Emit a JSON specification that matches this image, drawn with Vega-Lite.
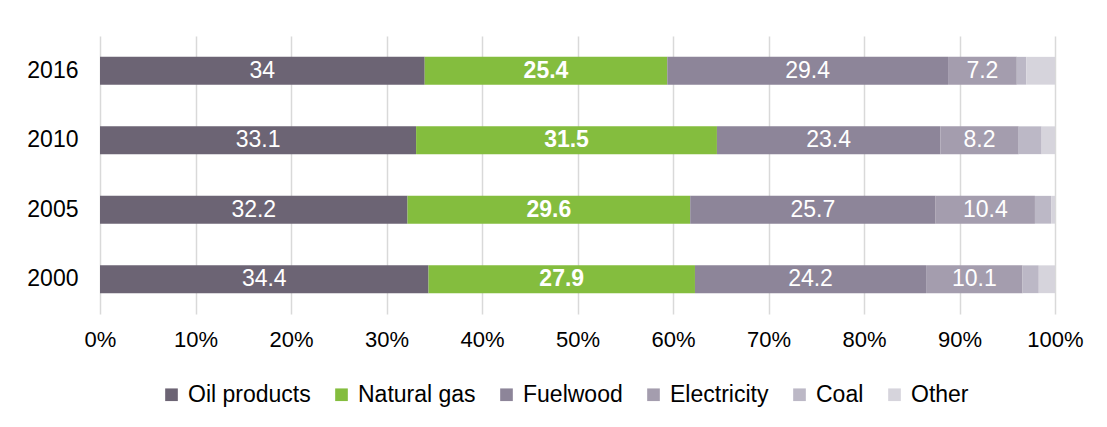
{
  "$schema": "https://vega.github.io/schema/vega-lite/v6.json",
  "width": 955,
  "height": 278,
  "autosize": {"type": "none"},
  "padding": {"left": 100, "top": 36, "right": 52, "bottom": 113},
  "background": "white",
  "config": {
    "font": "Liberation Sans",
    "view": {"stroke": null},
    "axis": {"labelFont": "Liberation Sans", "labelColor": "#000000"}
  },
  "data": {
    "values": [
      {"year": "2016", "cat": "Oil products", "ord": 1, "value": 34},
      {"year": "2016", "cat": "Natural gas", "ord": 2, "value": 25.4},
      {"year": "2016", "cat": "Fuelwood", "ord": 3, "value": 29.4},
      {"year": "2016", "cat": "Electricity", "ord": 4, "value": 7.2},
      {"year": "2016", "cat": "Coal", "ord": 5, "value": 1.0},
      {"year": "2016", "cat": "Other", "ord": 6, "value": 3.0},
      {"year": "2010", "cat": "Oil products", "ord": 1, "value": 33.1},
      {"year": "2010", "cat": "Natural gas", "ord": 2, "value": 31.5},
      {"year": "2010", "cat": "Fuelwood", "ord": 3, "value": 23.4},
      {"year": "2010", "cat": "Electricity", "ord": 4, "value": 8.2},
      {"year": "2010", "cat": "Coal", "ord": 5, "value": 2.4},
      {"year": "2010", "cat": "Other", "ord": 6, "value": 1.4},
      {"year": "2005", "cat": "Oil products", "ord": 1, "value": 32.2},
      {"year": "2005", "cat": "Natural gas", "ord": 2, "value": 29.6},
      {"year": "2005", "cat": "Fuelwood", "ord": 3, "value": 25.7},
      {"year": "2005", "cat": "Electricity", "ord": 4, "value": 10.4},
      {"year": "2005", "cat": "Coal", "ord": 5, "value": 1.7},
      {"year": "2005", "cat": "Other", "ord": 6, "value": 0.4},
      {"year": "2000", "cat": "Oil products", "ord": 1, "value": 34.4},
      {"year": "2000", "cat": "Natural gas", "ord": 2, "value": 27.9},
      {"year": "2000", "cat": "Fuelwood", "ord": 3, "value": 24.2},
      {"year": "2000", "cat": "Electricity", "ord": 4, "value": 10.1},
      {"year": "2000", "cat": "Coal", "ord": 5, "value": 1.7},
      {"year": "2000", "cat": "Other", "ord": 6, "value": 1.7}
    ]
  },
  "encoding": {
    "y": {
      "field": "year",
      "type": "nominal",
      "sort": ["2016", "2010", "2005", "2000"],
      "scale": {"paddingInner": 0.6, "paddingOuter": 0.3},
      "axis": {"title": null, "ticks": false, "domain": false, "labelPadding": 22, "labelFontSize": 23, "grid": false}
    },
    "x": {
      "field": "value",
      "type": "quantitative",
      "stack": "zero",
      "scale": {"domain": [0, 100], "nice": false},
      "axis": {
        "title": null,
        "values": [0, 10, 20, 30, 40, 50, 60, 70, 80, 90, 100],
        "labelExpr": "datum.value + '%'",
        "labelFlush": false,
        "labelFontSize": 22,
        "ticks": false,
        "domain": false,
        "labelPadding": 15,
        "grid": true,
        "gridColor": "#d9d9d9",
        "gridWidth": 1.5
      }
    },
    "order": {"field": "ord", "type": "quantitative"}
  },
  "layer": [
    {
      "mark": {"type": "bar"},
      "encoding": {
        "color": {
          "field": "cat",
          "type": "nominal",
          "scale": {
            "domain": ["Oil products", "Natural gas", "Fuelwood", "Electricity", "Coal", "Other"],
            "range": ["#6c6474", "#84bd3e", "#8d8599", "#a49dae", "#bcb8c6", "#d6d4dc"]
          },
          "legend": {
            "title": null,
            "orient": "none",
            "direction": "horizontal",
            "legendX": 60,
            "legendY": 347,
            "symbolType": "square",
            "symbolSize": 160,
            "symbolStrokeWidth": 0,
            "labelFont": "Liberation Sans",
            "labelFontSize": 23,
            "labelColor": "#000000",
            "labelOffset": 5,
            "columnPadding": 19,
            "labelLimit": 300
          }
        }
      }
    },
    {
      "mark": {"type": "text", "color": "white", "fontSize": 23, "font": "Liberation Sans"},
      "encoding": {
        "x": {"field": "value", "type": "quantitative", "stack": "zero", "bandPosition": 0.5},
        "text": {"field": "value", "type": "quantitative", "format": ".1~f"},
        "opacity": {
          "condition": {"test": "datum.cat === 'Oil products' || datum.cat === 'Fuelwood' || datum.cat === 'Electricity'", "value": 1},
          "value": 0
        }
      }
    },
    {
      "mark": {"type": "text", "color": "white", "fontSize": 23, "fontWeight": "bold", "font": "Liberation Sans"},
      "encoding": {
        "x": {"field": "value", "type": "quantitative", "stack": "zero", "bandPosition": 0.5},
        "text": {"field": "value", "type": "quantitative", "format": ".1~f"},
        "opacity": {
          "condition": {"test": "datum.cat === 'Natural gas'", "value": 1},
          "value": 0
        }
      }
    }
  ]
}
